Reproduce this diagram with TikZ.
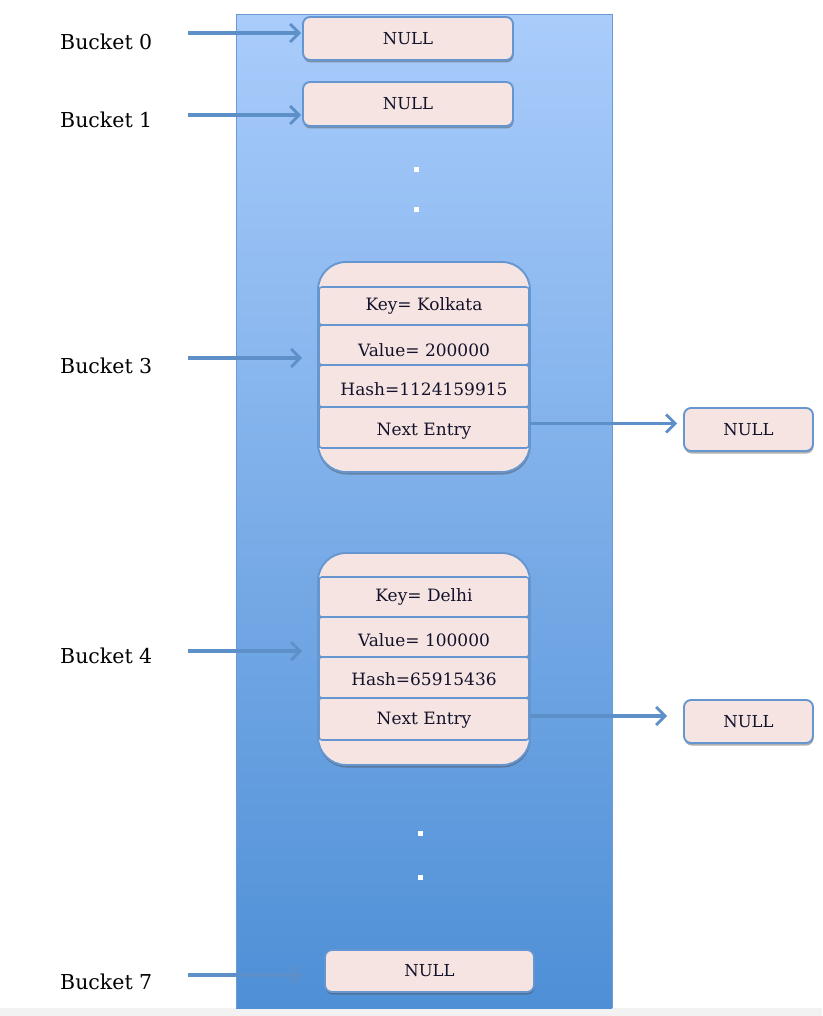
\documentclass[tikz,border=0pt]{standalone}
\usepackage{fontspec}
\setmainfont{DejaVu Serif}
\usetikzlibrary{arrows.meta,shadows}
\definecolor{colTop}{HTML}{A9CCFB}
\definecolor{colBot}{HTML}{4E8FD6}
\definecolor{colEdge}{HTML}{6E9AD2}
\definecolor{boxFill}{HTML}{F5E4E2}
\definecolor{boxEdge}{HTML}{6596D0}
\definecolor{arrCol}{HTML}{5D8FC8}
\definecolor{txtCol}{HTML}{14122A}
\tikzset{
  boxbase/.style={rectangle, fill=boxFill, draw=boxEdge, line width=1.9pt, text=txtCol, inner sep=0pt,
    drop shadow={shadow xshift=0.5pt, shadow yshift=-2.5pt, opacity=0.45, fill=black!70}},
  nullbox/.style={boxbase, rounded corners=7pt, font=\fontsize{16.5}{18}\selectfont},
  outerbox/.style={boxbase, rounded corners=28pt, minimum width=212pt, minimum height=210pt},
  rowbox/.style={rectangle, rounded corners=3pt, fill=boxFill, draw=boxEdge, line width=1.6pt, text=txtCol,
    minimum width=210pt, inner sep=0pt, font=\fontsize{17}{19}\selectfont},
  rowtext/.style={font=\fontsize{17}{19}\selectfont, text=txtCol, inner sep=0pt},
  bucketlabel/.style={anchor=west, inner sep=0pt, text=black, font=\fontsize{20.5}{23}\selectfont},
  ptr/.style={draw=arrCol, line width=3.5pt, -{Straight Barb[length=9pt,width=18pt,line width=2.8pt]}},
  dotsq/.style={fill=white, draw=none, minimum size=5pt, inner sep=0pt, rectangle}
}
\begin{document}
\begin{tikzpicture}[x=1pt,y=-1pt]
\useasboundingbox (0,0) rectangle (822,1016);
\fill[white] (0,0) rectangle (822,1016);
\fill[black!5] (0,1008) rectangle (822,1016);
% column
\shade[top color=colTop, bottom color=colBot] (236,15) rectangle (612,1008);
\draw[colEdge, line width=1pt] (236,1008) -- (236,15) -- (612,15) -- (612,1008);

% labels
\node[bucketlabel] (b0) at (60,42) {Bucket 0};
\node[bucketlabel] (b1) at (60,120) {Bucket 1};
\node[bucketlabel] (b3) at (60,366) {Bucket 3};
\node[bucketlabel] (b4) at (60,656) {Bucket 4};
\node[bucketlabel] (b7) at (60,982) {Bucket 7};

% NULL boxes
\node[nullbox, minimum width=210pt, minimum height=43pt] (n0) at (408,38.5) {NULL};
\node[nullbox, minimum width=210pt, minimum height=44pt] (n1) at (408,104) {NULL};
\node[nullbox, minimum width=209pt, minimum height=42pt] (n7) at (429.5,971) {NULL};
\node[nullbox, minimum width=129pt, minimum height=43pt] (r3) at (748.5,429.5) {NULL};
\node[nullbox, minimum width=129pt, minimum height=43pt] (r4) at (748.5,721.5) {NULL};

% dots
\node[dotsq] (d1) at (416,170) {};
\node[dotsq] (d2) at (416,210) {};
\node[dotsq] (d3) at (420,833) {};
\node[dotsq] (d4) at (420,877) {};

% Kolkata entry
\node[outerbox] (e3) at (424,367) {};
\node[rowbox, minimum height=38pt] (k3) at (424,306) {Key= Kolkata};
\node[rowbox, minimum height=40pt] (v3) at (424,345) {};
\node[rowbox, minimum height=42pt] (h3) at (424,386) {};
\node[rowbox, minimum height=41pt] (x3) at (424,427.5) {};
\node[rowtext] (v3t) at (424,350) {Value= 200000};
\node[rowtext] (h3t) at (424,389) {Hash=1124159915};
\node[rowtext] (x3t) at (424,431) {Next Entry};

% Delhi entry
\node[outerbox, minimum height=212pt] (e4) at (424,659) {};
\node[rowbox, minimum height=40pt] (k4) at (424,597) {Key= Delhi};
\node[rowbox, minimum height=40pt] (v4) at (424,637) {};
\node[rowbox, minimum height=41pt] (h4) at (424,677.5) {};
\node[rowbox, minimum height=42pt] (x4) at (424,719) {};
\node[rowtext] (v4t) at (424,640) {Value= 100000};
\node[rowtext] (h4t) at (424,679) {Hash=65915436};
\node[rowtext] (x4t) at (424,720) {Next Entry};

% bucket pointers
\coordinate (s0) at (188,33);
\coordinate (s1) at (188,115);
\coordinate (s3) at (188,358);
\coordinate (s4) at (188,651);
\coordinate (s7) at (188,975);
\coordinate (t3) at (302,358);
\coordinate (t4) at (302,651);
\coordinate (t7) at (302,975);
\draw[ptr, shorten >=1pt] (s0) -- (s0 -| n0.west);
\draw[ptr, shorten >=1pt] (s1) -- (s1 -| n1.west);
\draw[ptr] (s3) -- (t3);
\draw[ptr] (s4) -- (t4);
\draw[ptr] (s7) -- (t7);

% next pointers
\coordinate (o3) at ([yshift=4pt]x3.east);
\coordinate (o4) at ([yshift=3pt]x4.east);
\draw[ptr, shorten >=6pt] (o3) -- (o3 -| r3.west);
\draw[ptr, shorten >=16pt] (o4) -- (o4 -| r4.west);
\end{tikzpicture}
\end{document}
